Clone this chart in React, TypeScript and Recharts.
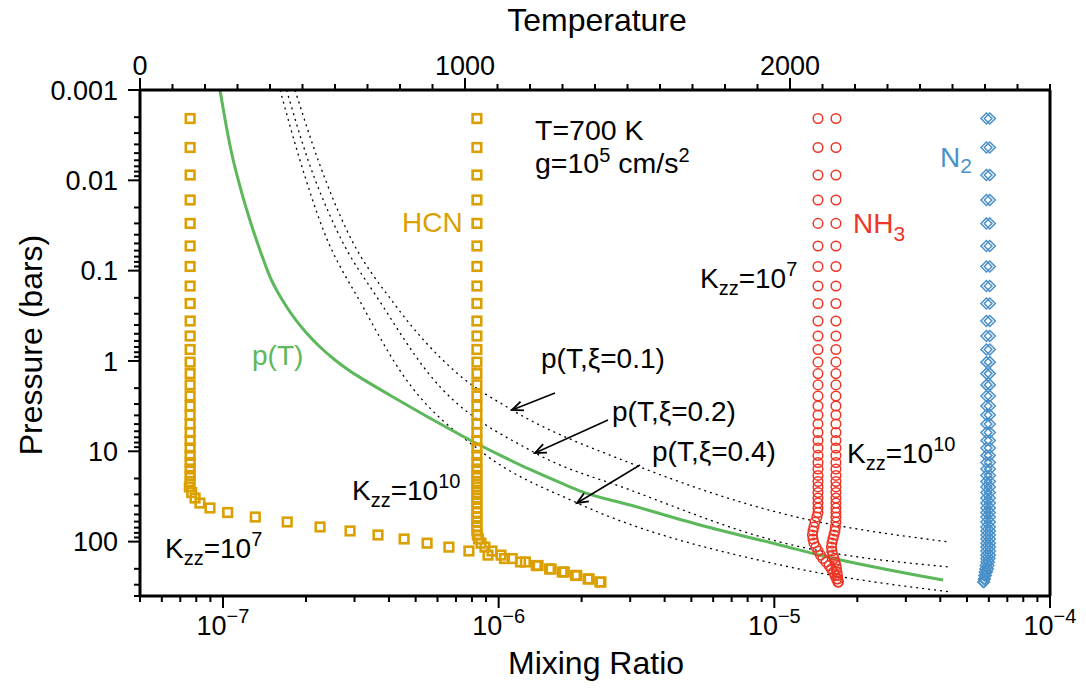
import React from 'react';
import { ComposedChart, Scatter, Line, XAxis, YAxis } from 'recharts';

const FONT = '"Liberation Sans", Arial, Helvetica, sans-serif';
const GOLD = '#DBA000';
const RED = '#EE3526';
const BLUE = '#4A90C9';
const GREEN = '#5CB85A';

// model pressure levels (bar), shared by all species
const pressure = [
  0.00207, 0.00433, 0.00873, 0.0165, 0.03, 0.0533, 0.0899, 0.148, 0.231, 0.361,
  0.529, 0.746, 1.03, 1.38, 1.84, 2.44, 3.15, 3.96, 4.98, 6.19,
  7.59, 9.19, 11.1, 13.3, 15.7, 18.5, 21.6, 24.8, 28.6, 32.9,
  37.4, 42.4, 47.6, 53.4, 60.6, 68.8, 76.2, 84.4, 93.5, 104,
  115, 127, 141, 154, 168, 184, 201, 217, 237, 259,
  280,
];

const hcnK7 = [
  7.6e-8, 7.6e-8, 7.6e-8, 7.6e-8, 7.6e-8, 7.6e-8, 7.6e-8, 7.6e-8, 7.6e-8, 7.6e-8,
  7.6e-8, 7.6e-8, 7.6e-8, 7.6e-8, 7.6e-8, 7.6e-8, 7.6e-8, 7.6e-8, 7.6e-8, 7.6e-8,
  7.6e-8, 7.6e-8, 7.6e-8, 7.6e-8, 7.6e-8, 7.6e-8, 7.6e-8, 7.55e-8, 7.7e-8, 7.92e-8,
  8.25e-8, 8.97e-8, 1.04e-7, 1.31e-7, 1.71e-7, 2.25e-7, 2.89e-7, 3.65e-7, 4.54e-7, 5.5e-7,
  6.6e-7, 7.8e-7, 9.15e-7, 1.05e-6, 1.2e-6, 1.37e-6, 1.55e-6, 1.73e-6, 1.92e-6, 2.13e-6,
  2.35e-6,
];
const hcnK10 = [
  8.34e-7, 8.34e-7, 8.34e-7, 8.34e-7, 8.34e-7, 8.34e-7, 8.34e-7, 8.34e-7, 8.34e-7, 8.34e-7,
  8.34e-7, 8.34e-7, 8.34e-7, 8.34e-7, 8.34e-7, 8.34e-7, 8.34e-7, 8.34e-7, 8.34e-7, 8.34e-7,
  8.34e-7, 8.34e-7, 8.34e-7, 8.34e-7, 8.34e-7, 8.34e-7, 8.34e-7, 8.34e-7, 8.34e-7, 8.34e-7,
  8.34e-7, 8.34e-7, 8.34e-7, 8.34e-7, 8.34e-7, 8.34e-7, 8.34e-7, 8.37e-7, 8.45e-7, 8.63e-7,
  8.92e-7, 9.46e-7, 1.02e-6, 1.12e-6, 1.25e-6, 1.39e-6, 1.53e-6, 1.7e-6, 1.9e-6, 2.11e-6,
  2.33e-6,
];
const nh3K7 = [
  1.44e-5, 1.44e-5, 1.44e-5, 1.44e-5, 1.44e-5, 1.44e-5, 1.44e-5, 1.44e-5, 1.44e-5, 1.44e-5,
  1.44e-5, 1.44e-5, 1.44e-5, 1.44e-5, 1.44e-5, 1.44e-5, 1.44e-5, 1.44e-5, 1.44e-5, 1.44e-5,
  1.44e-5, 1.44e-5, 1.44e-5, 1.44e-5, 1.44e-5, 1.44e-5, 1.44e-5, 1.44e-5, 1.44e-5, 1.44e-5,
  1.44e-5, 1.44e-5, 1.44e-5, 1.427e-5, 1.404e-5, 1.392e-5, 1.381e-5, 1.375e-5, 1.381e-5, 1.392e-5,
  1.416e-5, 1.44e-5, 1.47e-5, 1.5e-5, 1.54e-5, 1.58e-5, 1.61e-5, 1.64e-5, 1.66e-5, 1.68e-5,
  1.7e-5,
];
const nh3K10 = [
  1.673e-5, 1.673e-5, 1.673e-5, 1.673e-5, 1.673e-5, 1.673e-5, 1.673e-5, 1.673e-5, 1.673e-5, 1.673e-5,
  1.673e-5, 1.673e-5, 1.673e-5, 1.673e-5, 1.673e-5, 1.673e-5, 1.673e-5, 1.673e-5, 1.673e-5, 1.673e-5,
  1.673e-5, 1.673e-5, 1.673e-5, 1.673e-5, 1.673e-5, 1.673e-5, 1.673e-5, 1.673e-5, 1.673e-5, 1.673e-5,
  1.673e-5, 1.673e-5, 1.673e-5, 1.673e-5, 1.673e-5, 1.666e-5, 1.659e-5, 1.645e-5, 1.631e-5, 1.618e-5,
  1.611e-5, 1.618e-5, 1.631e-5, 1.645e-5, 1.659e-5, 1.673e-5, 1.68e-5, 1.687e-5, 1.694e-5, 1.7e-5,
  1.708e-5,
];
const n2K7 = [
  6.05e-5, 6.05e-5, 6.05e-5, 6.05e-5, 6.05e-5, 6.05e-5, 6.05e-5, 6.05e-5, 6.05e-5, 6.05e-5,
  6.05e-5, 6.05e-5, 6.05e-5, 6.05e-5, 6.05e-5, 6.05e-5, 6.05e-5, 6.05e-5, 6.05e-5, 6.05e-5,
  6.05e-5, 6.05e-5, 6.05e-5, 6.05e-5, 6.05e-5, 6.05e-5, 6.05e-5, 6.05e-5, 6.05e-5, 6.05e-5,
  6.05e-5, 6.05e-5, 6.05e-5, 6.05e-5, 6.05e-5, 6.05e-5, 6.05e-5, 6.05e-5, 6.05e-5, 6.05e-5,
  6.05e-5, 6.05e-5, 6.05e-5, 6.03e-5, 6.0e-5, 5.98e-5, 5.95e-5, 5.9e-5, 5.85e-5, 5.8e-5,
  5.76e-5,
];
const n2K10 = [
  5.88e-5, 5.88e-5, 5.88e-5, 5.88e-5, 5.88e-5, 5.88e-5, 5.88e-5, 5.88e-5, 5.88e-5, 5.88e-5,
  5.88e-5, 5.88e-5, 5.88e-5, 5.88e-5, 5.88e-5, 5.88e-5, 5.88e-5, 5.88e-5, 5.88e-5, 5.88e-5,
  5.88e-5, 5.88e-5, 5.88e-5, 5.88e-5, 5.88e-5, 5.88e-5, 5.88e-5, 5.88e-5, 5.88e-5, 5.88e-5,
  5.88e-5, 5.88e-5, 5.88e-5, 5.88e-5, 5.88e-5, 5.88e-5, 5.88e-5, 5.88e-5, 5.88e-5, 5.88e-5,
  5.88e-5, 5.88e-5, 5.88e-5, 5.88e-5, 5.88e-5, 5.85e-5, 5.83e-5, 5.8e-5, 5.78e-5, 5.76e-5,
  5.73e-5,
];

// p(T) profile (temperature K vs pressure bar)
const ptT = [
  246, 262, 282, 308, 338, 369, 400, 451, 513, 554, 600, 646, 692, 800, 908,
  1015, 1098, 1200, 1302, 1359, 1508, 1723, 1969, 2102, 2471,
];
const ptP = [
  0.001, 0.00215, 0.00502, 0.0118, 0.0275, 0.0591, 0.117, 0.251, 0.494, 0.7, 0.975, 1.29, 1.64, 2.77, 4.62,
  7.49, 10.6, 15.9, 23.0, 27.9, 39.3, 65.4, 109, 144, 266,
];

// p(T, xi) profiles
const xi01T = [477, 548, 636, 785, 975, 1145, 1508, 1969, 2492];
const xi01P = [0.001, 0.00596, 0.0355, 0.24, 1.36, 3.49, 13.5, 48.2, 101];
const xi02T = [451, 517, 605, 745, 887, 1215, 1508, 1969, 2492];
const xi02P = [0.001, 0.00596, 0.0355, 0.24, 1.36, 10.4, 26.8, 101, 191];
const xi04T = [431, 492, 564, 683, 805, 1055, 1345, 1969, 2492];
const xi04P = [0.001, 0.00596, 0.0355, 0.24, 1.36, 10.4, 37.3, 181, 361];

const mrTicks = [
  5e-8, 6e-8, 7e-8, 8e-8, 9e-8,
  1e-7, 2e-7, 3e-7, 4e-7, 5e-7, 6e-7, 7e-7, 8e-7, 9e-7,
  1e-6, 2e-6, 3e-6, 4e-6, 5e-6, 6e-6, 7e-6, 8e-6, 9e-6,
  1e-5, 2e-5, 3e-5, 4e-5, 5e-5, 6e-5, 7e-5, 8e-5, 9e-5,
  1e-4,
];
const mrMajor = [1e-7, 1e-6, 1e-5, 1e-4];
const mrExp = ['\u22127', '\u22126', '\u22125', '\u22124'];

const tTicks = [
  0, 100, 200, 300, 400, 500, 600, 700, 800, 900,
  1000, 1100, 1200, 1300, 1400, 1500, 1600, 1700, 1800, 1900,
  2000, 2100, 2200, 2300, 2400, 2500, 2600, 2700, 2800,
];
const tMajor = [0, 1000, 2000];

const pTicks = [
  0.001, 0.002, 0.003, 0.004, 0.005, 0.006, 0.007, 0.008, 0.009,
  0.01, 0.02, 0.03, 0.04, 0.05, 0.06, 0.07, 0.08, 0.09,
  0.1, 0.2, 0.3, 0.4, 0.5, 0.6, 0.7, 0.8, 0.9,
  1, 2, 3, 4, 5, 6, 7, 8, 9,
  10, 20, 30, 40, 50, 60, 70, 80, 90,
  100, 200, 300, 400,
];
const pMajor = [0.001, 0.01, 0.1, 1, 10, 100];
const pLabels = ['0.001', '0.01', '0.1', '1', '10', '100'];

const pairs = (xs: number[]) => pressure.map((p, i) => ({ x: xs[i], p }));
const profile = (ts: number[], ps: number[]) => ts.map((T, i) => ({ T, p: ps[i] }));

const findMajor = (list: number[], v: number) => list.findIndex((m) => Math.abs(v - m) <= Math.abs(m) * 1e-6);

function BottomTick({ x, y, payload }: any) {
  const i = findMajor(mrMajor, payload.value);
  return (
    <g>
      <line x1={x} x2={x} y1={y} y2={y + (i >= 0 ? 12 : 6)} stroke="#000" strokeWidth={2} />
      {i >= 0 && (
        <text x={x} y={y + 39} textAnchor="middle" fontSize={27} fontFamily={FONT} fill="#000">
          10<tspan dy={-12} fontSize={20}>{mrExp[i]}</tspan>
        </text>
      )}
    </g>
  );
}

function TopTick({ x, y, payload }: any) {
  const major = findMajor(tMajor, payload.value) >= 0 || payload.value === 0;
  return (
    <g>
      <line x1={x} x2={x} y1={y} y2={y - (major ? 12 : 6)} stroke="#000" strokeWidth={2} />
      {major && (
        <text x={x} y={y - 15} textAnchor="middle" fontSize={27} fontFamily={FONT} fill="#000">
          {payload.value}
        </text>
      )}
    </g>
  );
}

function LeftTick({ x, y, payload }: any) {
  const i = findMajor(pMajor, payload.value);
  return (
    <g>
      <line x1={x - (i >= 0 ? 12 : 6)} x2={x} y1={y} y2={y} stroke="#000" strokeWidth={2} />
      {i >= 0 && (
        <text x={x - 22} y={y} dy="0.36em" textAnchor="end" fontSize={27} fontFamily={FONT} fill="#000">
          {pLabels[i]}
        </text>
      )}
    </g>
  );
}

const Square = (props: any) => (
  <rect x={props.cx - 4.3} y={props.cy - 4.3} width={8.6} height={8.6} fill="none" stroke={GOLD} strokeWidth={2.6} />
);
const Ring = (props: any) => <circle cx={props.cx} cy={props.cy} r={4.8} fill="none" stroke={RED} strokeWidth={1.5} />;
const Diamond = (props: any) => {
  const { cx, cy } = props;
  const s = 5.5;
  return (
    <path d={`M${cx},${cy - s}L${cx + s},${cy}L${cx},${cy + s}L${cx - s},${cy}Z`} fill="none" stroke={BLUE} strokeWidth={1.5} />
  );
};

function Kzz({ x, y, exp }: { x: number; y: number; exp: string }) {
  return (
    <text x={x} y={y} fontSize={28} fill="#000">
      K<tspan dy={7} fontSize={20}>zz</tspan>
      <tspan dy={-7}>=10</tspan>
      <tspan dy={-12} fontSize={20}>{exp}</tspan>
    </text>
  );
}

function Arrow({ x1, y1, x2, y2 }: { x1: number; y1: number; x2: number; y2: number }) {
  const a = Math.atan2(y2 - y1, x2 - x1);
  const L = 12;
  const w = 0.4;
  const p1 = [x2 - L * Math.cos(a - w), y2 - L * Math.sin(a - w)];
  const p2 = [x2 - L * Math.cos(a + w), y2 - L * Math.sin(a + w)];
  return (
    <g>
      <line x1={x1} y1={y1} x2={x2} y2={y2} stroke="#000" strokeWidth={1.5} />
      <polyline points={`${p1[0]},${p1[1]} ${x2},${y2} ${p2[0]},${p2[1]}`} fill="none" stroke="#000" strokeWidth={1.8} />
    </g>
  );
}

export default function App() {
  return (
    <div style={{ position: 'relative', width: 1070, height: 674, fontFamily: FONT }}>
      <ComposedChart width={1070} height={674} margin={{ top: 42, right: 28, bottom: 36, left: 52 }}>
        <XAxis
          xAxisId="mr"
          dataKey="x"
          type="number"
          scale="log"
          domain={[5e-8, 1e-4]}
          allowDataOverflow
          ticks={mrTicks}
          interval={0}
          tickSize={0}
          tickMargin={0}
          tickLine={false}
          tick={<BottomTick />}
          height={50}
          axisLine={{ stroke: '#000', strokeWidth: 3 }}
        />
        <XAxis
          xAxisId="T"
          dataKey="T"
          type="number"
          orientation="top"
          domain={[0, 2800]}
          allowDataOverflow
          ticks={tTicks}
          interval={0}
          tickSize={0}
          tickMargin={0}
          tickLine={false}
          tick={<TopTick />}
          height={40}
          axisLine={{ stroke: '#000', strokeWidth: 3 }}
        />
        <YAxis
          yAxisId="p"
          dataKey="p"
          type="number"
          scale="log"
          reversed
          domain={[0.001, 400]}
          allowDataOverflow
          ticks={pTicks}
          interval={0}
          tickSize={0}
          tickMargin={0}
          tickLine={false}
          tick={<LeftTick />}
          width={80}
          axisLine={{ stroke: '#000', strokeWidth: 3 }}
        />
        <Scatter data={pairs(hcnK7)} xAxisId="mr" yAxisId="p" shape={Square} isAnimationActive={false} />
        <Scatter data={pairs(hcnK10)} xAxisId="mr" yAxisId="p" shape={Square} isAnimationActive={false} />
        <Scatter data={pairs(nh3K7)} xAxisId="mr" yAxisId="p" shape={Ring} isAnimationActive={false} />
        <Scatter data={pairs(nh3K10)} xAxisId="mr" yAxisId="p" shape={Ring} isAnimationActive={false} />
        <Scatter data={pairs(n2K7)} xAxisId="mr" yAxisId="p" shape={Diamond} isAnimationActive={false} />
        <Scatter data={pairs(n2K10)} xAxisId="mr" yAxisId="p" shape={Diamond} isAnimationActive={false} />
        <Line data={profile(xi01T, xi01P)} xAxisId="T" yAxisId="p" dataKey="p" type="monotone" stroke="#000" strokeWidth={1.3} strokeDasharray="2 4" dot={false} isAnimationActive={false} />
        <Line data={profile(xi02T, xi02P)} xAxisId="T" yAxisId="p" dataKey="p" type="monotone" stroke="#000" strokeWidth={1.3} strokeDasharray="2 4" dot={false} isAnimationActive={false} />
        <Line data={profile(xi04T, xi04P)} xAxisId="T" yAxisId="p" dataKey="p" type="monotone" stroke="#000" strokeWidth={1.3} strokeDasharray="2 4" dot={false} isAnimationActive={false} />
        <Line data={profile(ptT, ptP)} xAxisId="T" yAxisId="p" dataKey="p" type="monotone" stroke={GREEN} strokeWidth={3} dot={false} isAnimationActive={false} />
      </ComposedChart>
      <svg width={1070} height={674} style={{ position: 'absolute', left: 0, top: 0, pointerEvents: 'none', fontFamily: FONT, overflow: 'visible' }}>
        <line x1={1042} y1={82} x2={1042} y2={588} stroke="#000" strokeWidth={3} />
        <text x={589} y={23} textAnchor="middle" fontSize={32}>Temperature</text>
        <text x={588} y={666} textAnchor="middle" fontSize={32}>Mixing Ratio</text>
        <text transform="translate(34,337) rotate(-90)" textAnchor="middle" fontSize={32}>Pressure (bars)</text>

        <text x={527} y={132} fontSize={28.5}>T=700 K</text>
        <text x={527} y={165} fontSize={28.5}>
          g=10<tspan dy={-11} fontSize={20}>5</tspan>
          <tspan dy={11}> cm/s</tspan>
          <tspan dy={-11} fontSize={20}>2</tspan>
        </text>

        <text x={394} y={224} fontSize={28} fill={GOLD}>HCN</text>
        <text x={244} y={357} fontSize={28} fill={GREEN}>p(T)</text>
        <text x={845} y={225} fontSize={28} fill={RED}>
          NH<tspan dy={8} fontSize={21}>3</tspan>
        </text>
        <text x={932} y={159} fontSize={28} fill={BLUE}>
          N<tspan dy={6} fontSize={21}>2</tspan>
        </text>

        <Kzz x={692} y={280} exp="7" />
        <Kzz x={839} y={455} exp="10" />
        <Kzz x={344} y={492} exp="10" />
        <Kzz x={157} y={550} exp="7" />

        <text x={533} y={360} fontSize={28}>p(T,ξ=0.1)</text>
        <text x={604} y={413} fontSize={28}>p(T,ξ=0.2)</text>
        <text x={644} y={453} fontSize={28}>p(T,ξ=0.4)</text>
        <Arrow x1={547} y1={385} x2={504} y2={402} />
        <Arrow x1={600} y1={412} x2={527} y2={445} />
        <Arrow x1={632} y1={457} x2={569} y2={495} />
      </svg>
    </div>
  );
}
